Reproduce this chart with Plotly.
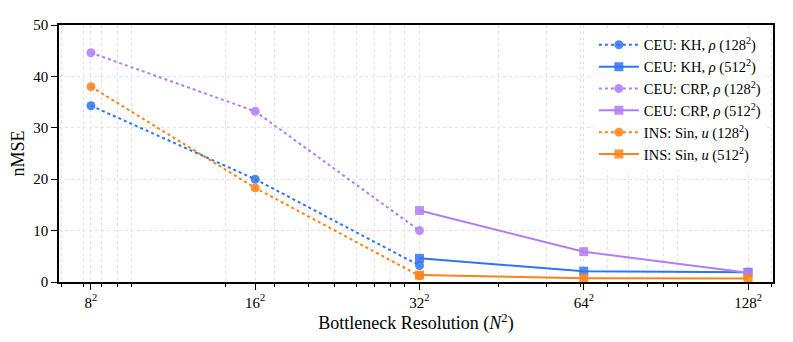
import plotly.graph_objects as go

# Bottleneck resolution N (x plotted as N^2 on a log axis)
res_small = [8, 16, 32]
res_large = [32, 64, 128]

kh_128 = [34.3, 20.0, 3.2]
kh_512 = [4.6, 2.1, 1.9]
crp_128 = [44.6, 33.2, 10.0]
crp_512 = [13.9, 5.9, 1.8]
ins_128 = [38.0, 18.3, 1.2]
ins_512 = [1.35, 0.75, 0.7]

tick_res = [8, 16, 32, 64, 128]

blue = "#2f74f5"
purple = "#b07ef5"
orange = "#ff8218"

series = [
    ("CEU: KH, <i>ρ</i> (128<sup>2</sup>)", res_small, kh_128, blue, "dot", "circle"),
    ("CEU: KH, <i>ρ</i> (512<sup>2</sup>)", res_large, kh_512, blue, "solid", "square"),
    ("CEU: CRP, <i>ρ</i> (128<sup>2</sup>)", res_small, crp_128, purple, "dot", "circle"),
    ("CEU: CRP, <i>ρ</i> (512<sup>2</sup>)", res_large, crp_512, purple, "solid", "square"),
    ("INS: Sin, <i>u</i> (128<sup>2</sup>)", res_small, ins_128, orange, "dot", "circle"),
    ("INS: Sin, <i>u</i> (512<sup>2</sup>)", res_large, ins_512, orange, "solid", "square"),
]

fig = go.Figure()
for name, xs, ys, color, dash, symbol in series:
    fig.add_trace(go.Scatter(
        x=[n * n for n in xs], y=ys, name=name, mode="lines+markers",
        line=dict(color=color, dash=dash, width=2),
        marker=dict(symbol=symbol, size=9, color=color, opacity=0.85),
    ))

# matplotlib-style log minor ticks
minor_vals = [m * 10 ** k for k in range(1, 5) for m in range(2, 10)]
minor_vals = [v for v in minor_vals if 49 <= v <= 20000]

grid = dict(gridcolor="#e2e2e2", griddash="dot", gridwidth=1)
font = "Liberation Serif, DejaVu Serif, serif"

# page body adds an 8px offset, margins compensate
fig.update_layout(
    width=793, height=342,
    margin=dict(l=51, r=28, t=9, b=68),
    paper_bgcolor="white", plot_bgcolor="white",
    font=dict(family=font, size=15, color="black"),
    showlegend=True,
    legend=dict(x=0.99, y=0.985, xanchor="right", yanchor="top",
                bgcolor="rgba(255,255,255,0.85)", font=dict(size=14.5),
                itemwidth=40, tracegroupgap=0),
    xaxis=dict(
        type="log", range=[1.689, 4.306],
        tickvals=[n * n for n in tick_res],
        ticktext=[f"{n}<sup>2</sup>" for n in tick_res],
        ticks="outside", ticklen=6, tickwidth=1.2, tickcolor="black",
        showline=True, linecolor="black", linewidth=1.5, mirror=True,
        showgrid=True, **grid, zeroline=False,
        minor=dict(tickvals=minor_vals, ticks="outside", ticklen=3,
                   tickcolor="black", showgrid=True, **grid),
        title=dict(text="Bottleneck Resolution (<i>N</i><sup>2</sup>)", standoff=6),
    ),
    yaxis=dict(
        range=[0, 50], tickvals=[0, 10, 20, 30, 40, 50],
        ticks="outside", ticklen=6, tickwidth=1.2, tickcolor="black",
        showline=True, linecolor="black", linewidth=1.5, mirror=True,
        showgrid=True, **grid, zeroline=False,
        title=dict(text="nMSE", standoff=4),
    ),
)

fig.write_html("out.html")
